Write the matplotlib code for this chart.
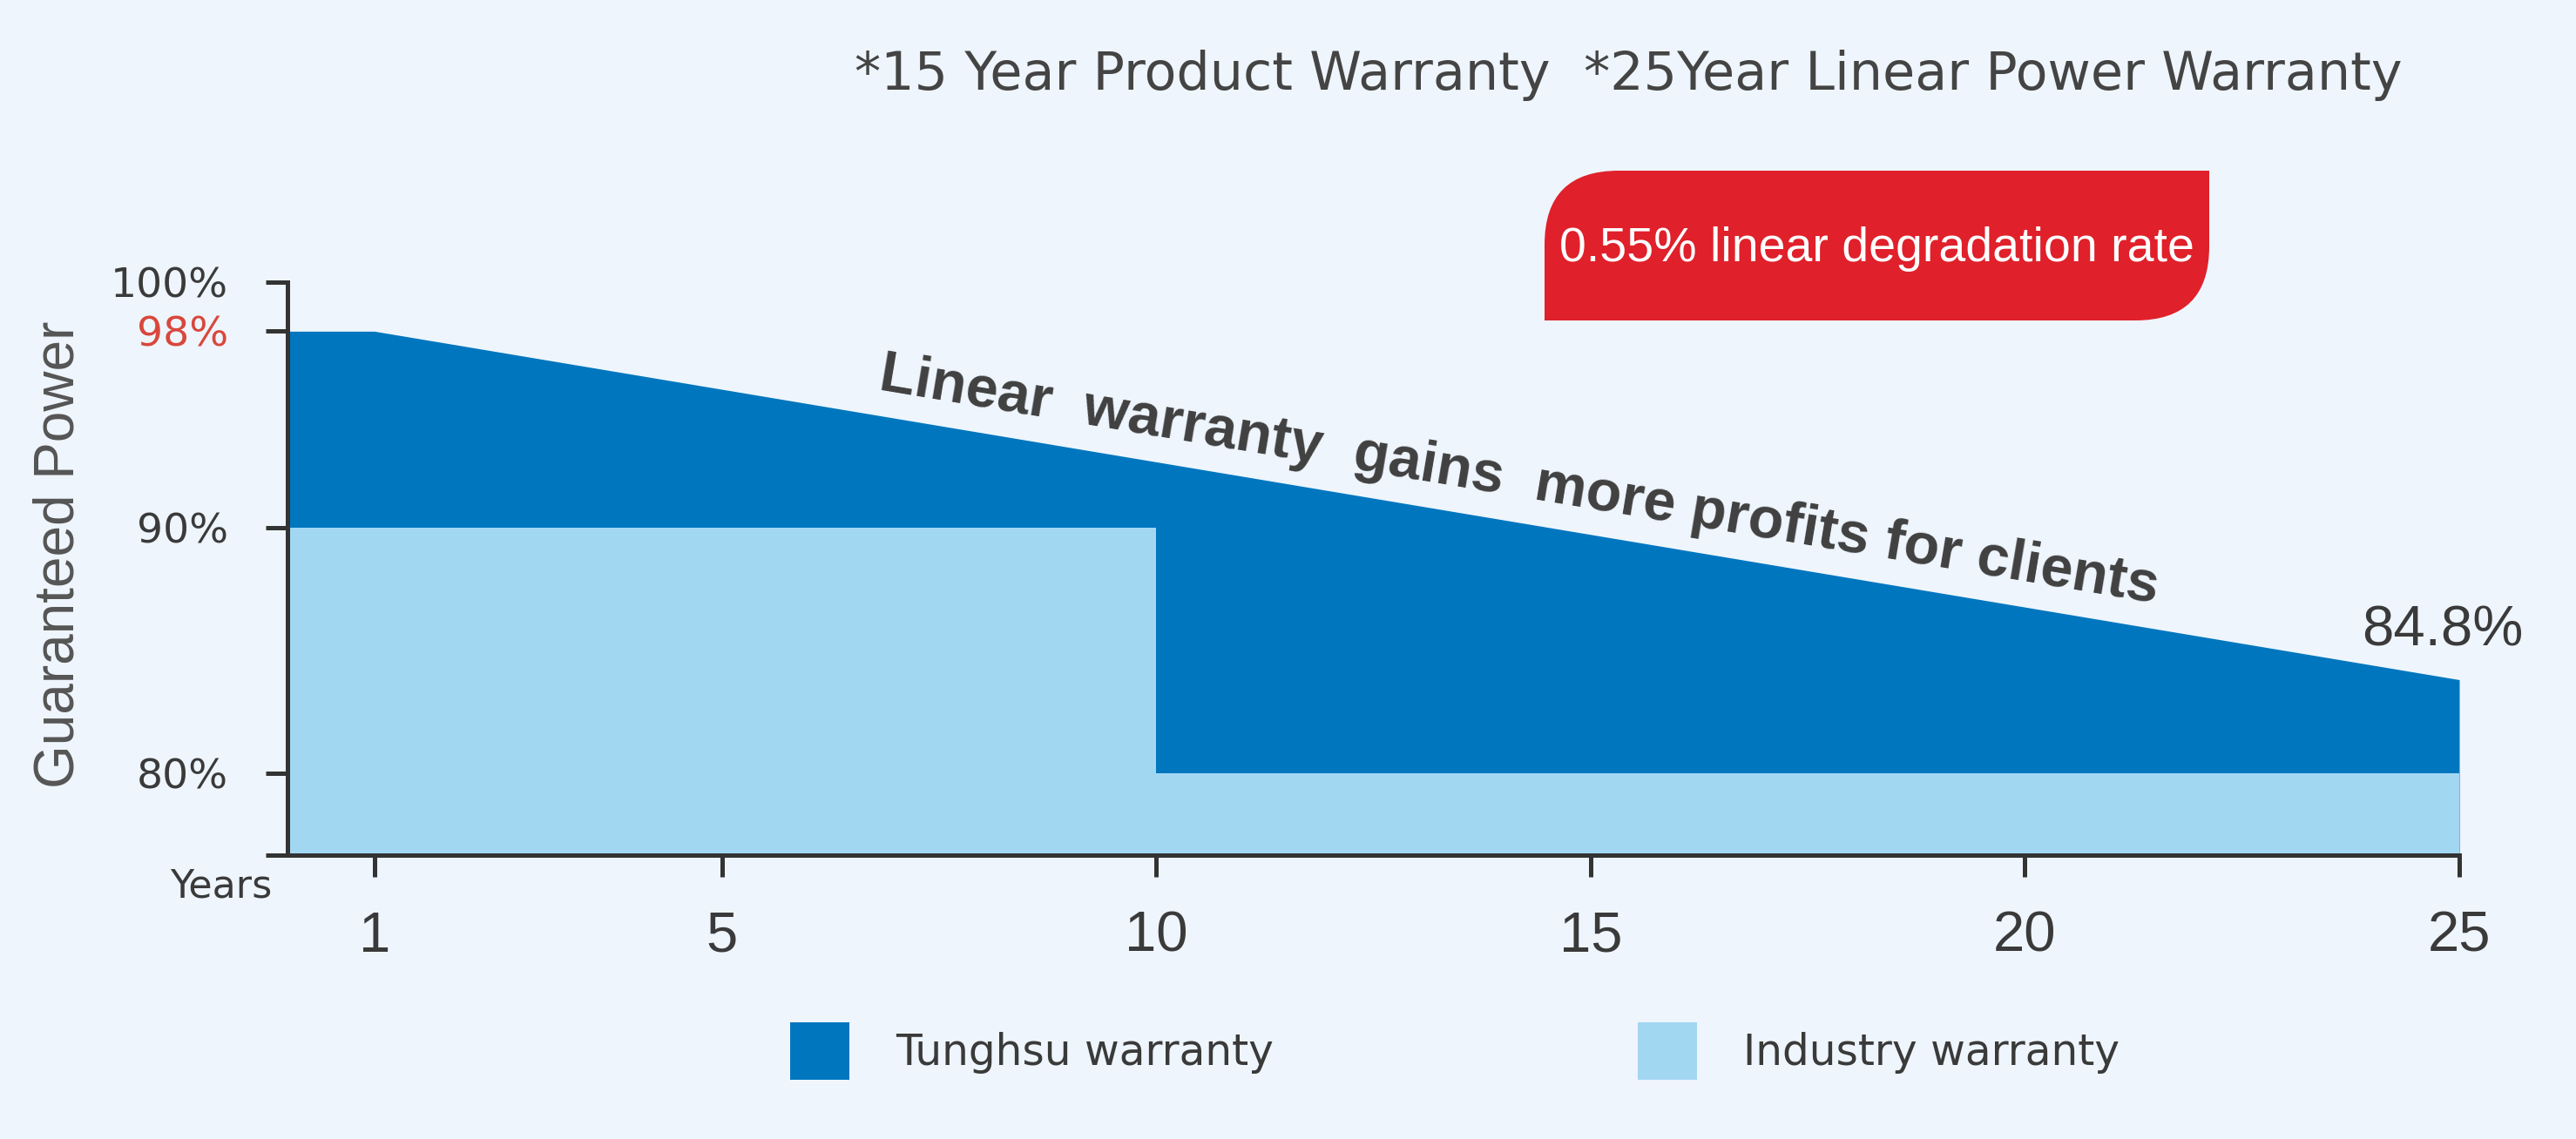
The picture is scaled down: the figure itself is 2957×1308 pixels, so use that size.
import numpy as np
import matplotlib.pyplot as plt
from matplotlib.patches import Patch, PathPatch
from matplotlib.path import Path

# data
tunghsu_years = [0, 1, 25]
tunghsu_power = [98, 98, 83.8]
industry_years = [0, 10, 25]
industry_power = [90, 80, 80]
x_ticks = [1, 5, 10, 15, 20, 25]
y_ticks = [80, 90, 98, 100]
y_labels = ['80%', '90%', '98%', '100%']
y_bottom = 76.65

bg = '#eef5fc'
dark_blue = '#0076bf'
light_blue = '#a2d7f2'
red = '#e0202a'
axis_col = '#333333'
text_col = '#3a3a3a'

W, H = 2957, 1308
fig = plt.figure(figsize=(W / 100, H / 100), dpi=100)
fig.patch.set_facecolor(bg)

ax = fig.add_axes([330 / W, 326 / H, (2823 - 330) / W, (982 - 324) / H])
ax.set_facecolor(bg)
ax.set_xlim(0, 25)
ax.set_ylim(y_bottom, 100)

ax.fill_between(tunghsu_years, y_bottom, tunghsu_power, color=dark_blue, lw=0, zorder=1)
ax.fill_between(industry_years, y_bottom, industry_power, step='post', color=light_blue, lw=0, zorder=2)

for s in ['top', 'right']:
    ax.spines[s].set_visible(False)
for s in ['left', 'bottom']:
    ax.spines[s].set_color(axis_col)
    ax.spines[s].set_linewidth(3.6)
    ax.spines[s].set_zorder(5)

ax.set_xticks(x_ticks)
ax.set_xticklabels([str(x) for x in x_ticks], family='Liberation Sans', fontsize=47, color=text_col)
ax.set_yticks([y_bottom] + y_ticks)
ax.set_yticklabels([''] + y_labels, family='DejaVu Sans', fontsize=34, color=text_col)
ax.tick_params(axis='both', length=18, width=3.6, color=axis_col)
ax.tick_params(axis='x', pad=28)
ax.tick_params(axis='y', pad=31)
ax.get_yticklabels()[3].set_color('#d9473c')

fig.text(68 / W, 1 - 637 / H, 'Guaranteed Power', family='Liberation Sans', fontsize=46,
         color='#555555', rotation=90, ha='center', va='center')

fig.text(312 / W, 1 - 1018 / H, 'Years', family='DejaVu Sans', fontsize=32,
         color=text_col, ha='right', va='center')

# end value label
ax.annotate('84.8%', xy=(tunghsu_years[-1], tunghsu_power[-1]), xytext=(-14, 40),
            textcoords='offset points', ha='center', va='center',
            family='Liberation Sans', fontsize=47, color=text_col)

# slanted slogan, parallel to the Tunghsu line
fig.canvas.draw()
p1 = ax.transData.transform((tunghsu_years[1], tunghsu_power[1]))
p2 = ax.transData.transform((tunghsu_years[2], tunghsu_power[2]))
angle = np.degrees(np.arctan2(p2[1] - p1[1], p2[0] - p1[0]))
fig.text(1744 / W, 1 - 553 / H, 'Linear  warranty  gains  more profits for clients',
         family='Liberation Sans', fontweight='bold', fontsize=48, color='#404040',
         rotation=angle, rotation_mode='anchor', ha='center', va='center')

# header
fig.text(1869 / W, 1 - 87 / H, '*15 Year Product Warranty  *25Year Linear Power Warranty',
         family='DejaVu Sans', fontsize=43.5, color='#444444', ha='center', va='center')

# red badge with two rounded corners
x0, x1 = 1773, 2536
yt, yb = H - 196, H - 368
r = 85
verts = [(x0, yb), (x0, yt - r), (x0, yt), (x0 + r, yt), (x1, yt), (x1, yb + r),
         (x1, yb), (x1 - r, yb), (x0, yb)]
codes = [Path.MOVETO, Path.LINETO, Path.CURVE3, Path.CURVE3, Path.LINETO, Path.LINETO,
         Path.CURVE3, Path.CURVE3, Path.CLOSEPOLY]
verts = [(vx / W, vy / H) for vx, vy in verts]
fig.add_artist(PathPatch(Path(verts, codes), facecolor=red, edgecolor='none',
                         transform=fig.transFigure))
fig.text((x0 + x1) / 2 / W, 1 - 286 / H, '0.55% linear degradation rate',
         family='Liberation Sans', fontsize=40, color='white', ha='center', va='center')

# legend
handles = [Patch(facecolor=dark_blue, edgecolor='none', label='Tunghsu warranty'),
           Patch(facecolor=light_blue, edgecolor='none', label='Industry warranty')]
leg = fig.legend(handles=handles, loc='center', bbox_to_anchor=(1670 / W, 1 - 1207 / H),
                 ncol=2, frameon=False, prop={'family': 'DejaVu Sans', 'size': 35},
                 handlelength=1.4, handleheight=1.7, handletextpad=1.1,
                 columnspacing=8.6, borderpad=0)
for t in leg.get_texts():
    t.set_color(text_col)

fig.savefig('out.png', dpi=100, facecolor=bg)
